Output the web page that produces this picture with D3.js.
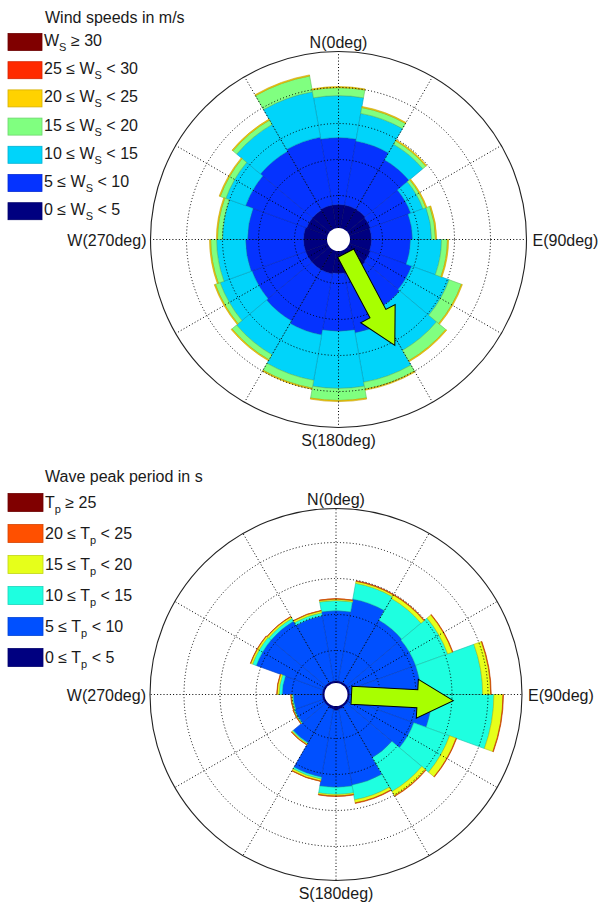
<!DOCTYPE html>
<html lang="en">
<head>
<meta charset="UTF-8">
<title>Wind and wave roses</title>
<script src="https://d3js.org/d3.v7.min.js"></script>
<style>
    html, body { margin:0; background:#fff; }
    svg text { font-family: "Liberation Sans", Arial, sans-serif; fill:#1a1a1a; }
    .grid { fill:none; stroke:#000; stroke-width:1; stroke-dasharray:1,2.2; }
    .rim { fill:none; stroke:#222; stroke-width:1.1; }
</style>
</head>
<body>
<svg id="chart" width="606" height="911"></svg>
<script>
    // sector centres (deg, clockwise from north), 20 deg wide
    var sectors = [0, 20, 40, 60, 80, 100, 120, 140, 160, 180, 200, 220, 240, 260, 280, 300, 320, 340];

    // wind speed bins, frequency per sector (%), inner to outer
    var wind0to5   = [1.50,1.50,1.50,1.44,1.39,1.39,1.44,1.50,1.50,1.44,1.50,1.50,1.50,1.50,1.50,1.44,1.44,1.50];
    var wind5to10  = [3.72,3.61,3.17,2.39,2.28,2.17,2.44,2.50,3.33,3.22,3.44,3.28,3.17,3.22,3.11,3.61,3.78,3.83];
    var wind10to15 = [2.33,1.56,1.00,0.72,1.06,1.72,2.22,2.67,2.78,3.17,2.56,2.17,1.89,1.61,1.39,1.17,1.72,2.56];
    var wind15to20 = [0.44,0.33,0.22,0.17,0.22,0.33,0.72,0.67,0.39,0.67,0.44,0.33,0.28,0.33,0.28,0.33,0.28,0.89];
    var wind20to25 = [0.06,0.06,0.06,0.06,0.06,0.06,0.06,0.06,0.06,0.06,0.06,0.06,0.06,0.06,0.06,0.06,0.06,0.06];
    var wind25to30 = [0,0,0,0,0,0,0,0,0,0,0,0,0,0,0,0,0,0];
    var wind30up   = [0,0,0,0,0,0,0,0,0,0,0,0,0,0,0,0,0,0];
    var windSeries = [wind0to5, wind5to10, wind10to15, wind15to20, wind20to25, wind25to30, wind30up];
    var windColors = ["#000080", "#0533ff", "#00d4fa", "#80ff80", "#ffd200", "#ff2a00", "#800000"];
    var windLabels = [
        ["0 \u2264 W", "S", " < 5"],
        ["5 \u2264 W", "S", " < 10"],
        ["10 \u2264 W", "S", " < 15"],
        ["15 \u2264 W", "S", " < 20"],
        ["20 \u2264 W", "S", " < 25"],
        ["25 \u2264 W", "S", " < 30"],
        ["W", "S", " \u2265 30"]
    ];

    // wave peak period bins, frequency per sector (%), inner to outer
    var wave0to5   = [0.33,0.33,0.33,0.33,0.33,0.33,0.33,0.33,0.39,0.44,0.39,0.33,0.33,0.33,0.33,0.33,0.33,0.33];
    var wave5to10  = [3.89,4.61,4.00,3.94,3.94,4.56,3.83,3.28,4.28,4.28,3.83,2.33,1.67,1.61,2.22,3.94,3.94,3.67];
    var wave10to15 = [0.56,0.89,1.39,1.89,3.44,3.44,2.11,2.17,0.83,0.39,0.11,0.06,0.06,0.06,0.17,0.22,0.17,0.17];
    var wave15to20 = [0.08,0.11,0.22,0.28,0.44,0.50,0.39,0.28,0.17,0.08,0.11,0.06,0.03,0.06,0.11,0.11,0.11,0.11];
    var wave20to25 = [0.03,0.03,0.03,0.03,0.03,0.03,0.03,0.03,0.03,0.03,0.02,0.02,0.01,0.01,0.02,0.02,0.02,0.02];
    var wave25up   = [0,0,0,0,0,0,0,0,0,0,0,0,0,0,0,0,0,0];
    var waveSeries = [wave0to5, wave5to10, wave10to15, wave15to20, wave20to25, wave25up];
    var waveColors = ["#000080", "#0050ff", "#1effe0", "#e6ff1a", "#ff5000", "#800000"];
    var waveLabels = [
        ["0 \u2264 T", "p", " < 5"],
        ["5 \u2264 T", "p", " < 10"],
        ["10 \u2264 T", "p", " < 15"],
        ["15 \u2264 T", "p", " < 20"],
        ["20 \u2264 T", "p", " < 25"],
        ["T", "p", " \u2265 25"]
    ];

    // mean direction arrows: [direction deg, magnitude %]
    var windArrow = [152, 6.22];
    var waveArrow = [93, 6.08];

    var ringValues = [2, 4, 6, 8];
    var spokes = [0, 30, 60, 90, 120, 150, 180, 210, 240, 270, 300, 330];

    var svg = d3.select("#chart");

    function drawRose(cfg) {
        var g = svg.append("g").attr("transform", "translate(" + cfg.cx + "," + cfg.cy + ")");
        var r = d3.scaleLinear().domain([0, 10]).range([8, 188]);
        var half = 10 * Math.PI / 180;
        var arc = d3.arc();

        // stacked wedges
        var cum = sectors.map(function() { return 0; });
        cfg.series.forEach(function(s, bi) {
            var wedges = sectors.map(function(dir, i) {
                var lo = cum[i];
                cum[i] += s[i];
                return {dir: dir, lo: lo, hi: cum[i]};
            }).filter(function(d) { return d.hi > d.lo; });
            g.append("g").selectAll("path")
                .data(wedges)
                .enter().append("path")
                .attr("d", function(d) {
                    var a = d.dir * Math.PI / 180;
                    return arc({innerRadius: r(d.lo), outerRadius: r(d.hi), startAngle: a - half, endAngle: a + half});
                })
                .attr("fill", cfg.colors[bi])
                .attr("stroke", d3.color(cfg.colors[bi]).darker(0.8))
                .attr("stroke-width", 0.6);
        });

        // grid on top of bars
        g.selectAll("circle.grid")
            .data(ringValues)
            .enter().append("circle")
            .attr("class", "grid")
            .attr("r", function(d) { return r(d); });
        g.selectAll("line.grid")
            .data(spokes)
            .enter().append("line")
            .attr("class", "grid")
            .attr("x1", function(d) { return cfg.hole * Math.sin(d * Math.PI / 180); })
            .attr("y1", function(d) { return -cfg.hole * Math.cos(d * Math.PI / 180); })
            .attr("x2", function(d) { return cfg.radius * Math.sin(d * Math.PI / 180); })
            .attr("y2", function(d) { return -cfg.radius * Math.cos(d * Math.PI / 180); });
        g.append("circle").attr("class", "rim").attr("r", cfg.radius);

        // hole
        g.append("circle").attr("r", cfg.hole).attr("fill", "#fff");

        // arrow
        var r0 = cfg.hole + 4, r1 = r(cfg.arrow[1]);
        var hw = 9, hh = 19.5, hl = 36;
        var pts = [[r0, -hw], [r1 - hl, -hw], [r1 - hl, -hh], [r1, 0], [r1 - hl, hh], [r1 - hl, hw], [r0, hw]];
        g.append("path")
            .attr("d", d3.line()(pts) + "Z")
            .attr("transform", "rotate(" + (cfg.arrow[0] - 90) + ")")
            .attr("fill", "#a8ff00")
            .attr("stroke", "#000")
            .attr("stroke-width", 1)
            .attr("stroke-linejoin", "miter");

        // compass labels
        var fs = 16;
        g.append("text").attr("x", 0).attr("y", -cfg.radius - 4).attr("text-anchor", "middle")
            .style("font-size", fs + "px").text("N(0deg)");
        g.append("text").attr("x", 0).attr("y", cfg.radius + 18).attr("text-anchor", "middle")
            .style("font-size", fs + "px").text("S(180deg)");
        g.append("text").attr("x", -cfg.radius - 4).attr("y", 6).attr("text-anchor", "end")
            .style("font-size", fs + "px").text("W(270deg)");
        g.append("text").attr("x", cfg.radius + 6).attr("y", 6).attr("text-anchor", "start")
            .style("font-size", fs + "px").text("E(90deg)");
    }

    function drawLegend(cfg) {
        var g = svg.append("g");
        g.append("text").attr("x", cfg.x + 37).attr("y", cfg.titleY)
            .style("font-size", "16px").text(cfg.title);
        var order = d3.range(cfg.labels.length).reverse();
        order.forEach(function(bi, row) {
            var y = cfg.y + row * cfg.step;
            g.append("rect")
                .attr("x", cfg.x).attr("y", y)
                .attr("width", cfg.w).attr("height", cfg.h)
                .attr("fill", cfg.colors[bi])
                .attr("stroke", d3.color(cfg.colors[bi]).darker(0.5))
                .attr("stroke-width", 0.8);
            var lab = cfg.labels[bi];
            var t = g.append("text").attr("x", cfg.x + cfg.w + 2).attr("y", y + cfg.base)
                .style("font-size", "16px");
            t.append("tspan").text(lab[0]);
            t.append("tspan").attr("dy", 5).style("font-size", "11px").text(lab[1]);
            t.append("tspan").attr("dy", -5).text(lab[2]);
        });
    }

    drawRose({cx: 338.5, cy: 239.5, radius: 188, hole: 11.5, series: windSeries, colors: windColors, arrow: windArrow});
    drawRose({cx: 336, cy: 694.5, radius: 186, hole: 11.5, series: waveSeries, colors: waveColors, arrow: waveArrow});

    drawLegend({x: 8, y: 33.5, step: 28.2, w: 34, h: 17, base: 12.5, titleY: 22.5,
        title: "Wind speeds in m/s", labels: windLabels, colors: windColors});
    drawLegend({x: 8, y: 493.5, step: 31, w: 35, h: 18, base: 14.5, titleY: 481.5,
        title: "Wave peak period in s", labels: waveLabels, colors: waveColors});
</script>
</body>
</html>
